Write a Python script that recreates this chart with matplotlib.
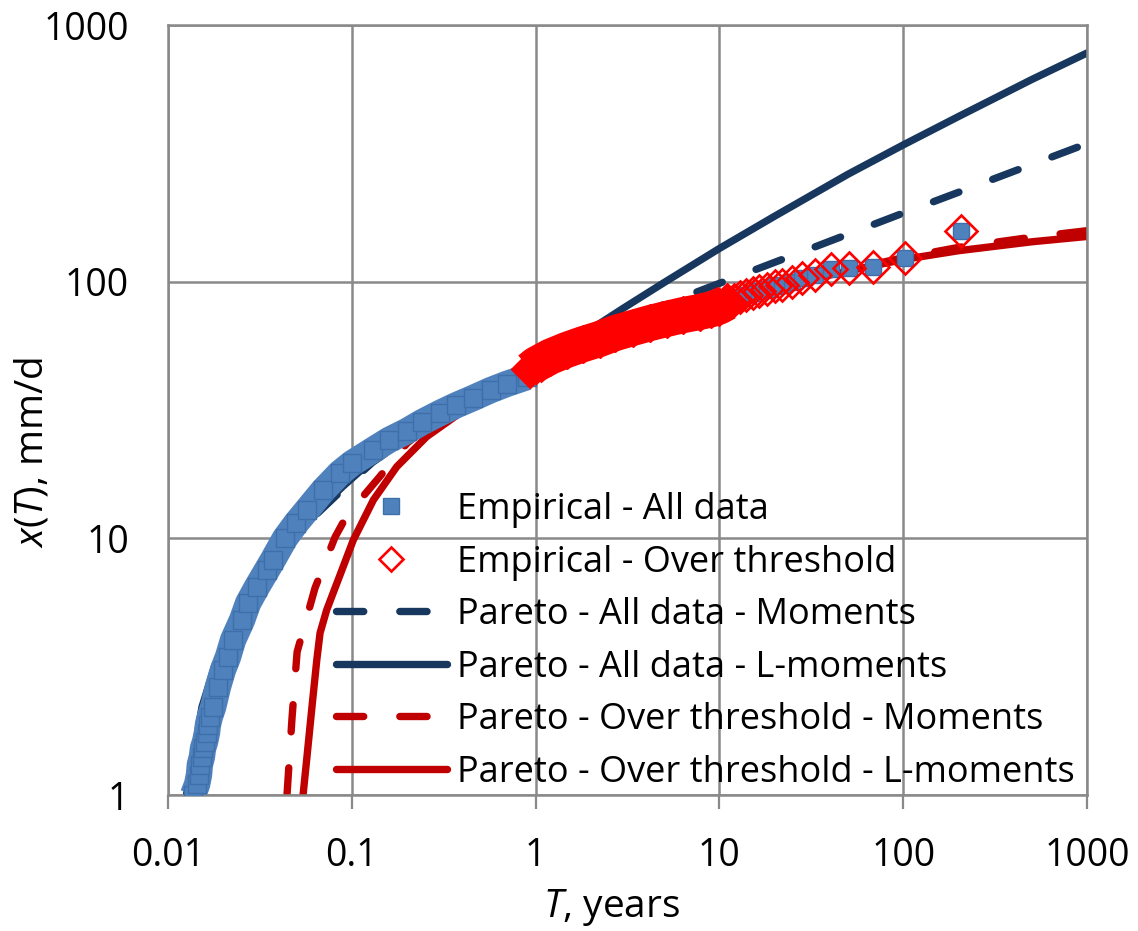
import matplotlib
matplotlib.use("Agg")
import matplotlib.pyplot as plt
from matplotlib.lines import Line2D

plt.rcParams["font.family"] = ["Open Sans", "DejaVu Sans"]
plt.rcParams["mathtext.fontset"] = "custom"
plt.rcParams["mathtext.rm"] = "Open Sans"
plt.rcParams["mathtext.it"] = "Open Sans:italic"

# Empirical - all data, dense part below T = 1 (return period in years, mm/d)
emp_all_T = [0.01368, 0.0144, 0.01475, 0.0149, 0.0153, 0.0155, 0.0159, 0.0163,
             0.0165, 0.0169, 0.0176, 0.0187, 0.0199, 0.0212, 0.0226, 0.0253,
             0.0273, 0.0305, 0.0346, 0.0372, 0.0433, 0.05, 0.0571, 0.07, 0.0863,
             0.1, 0.1304, 0.16, 0.1997, 0.24, 0.302, 0.37, 0.4565, 0.57, 0.699, 0.898]
emp_all_x = [1.0, 1.10, 1.20, 1.31, 1.41, 1.52, 1.61, 1.75,
             1.88, 2.02, 2.20, 2.64, 3.07, 3.45, 4.02, 4.81,
             5.60, 6.47, 7.54, 8.24, 10.0, 11.5, 12.9, 15.4, 18.0,
             19.6, 22.1, 24.2, 26.2, 28.3, 30.8, 33.0, 35.2, 37.8, 40.0, 42.5]

# Empirical - over threshold (same values are the upper tail of all data)
thr_dense_T = [0.93, 1.0, 1.2, 1.475, 1.8, 2.23, 2.7, 3.37, 4.2, 5.17, 6.3,
               7.81, 9.0, 10.0, 11.0]
thr_dense_x = [45.5, 47.5, 51, 54.2, 57, 59.8, 63, 66, 69, 71.6, 74,
               76.2, 78, 80, 83]
thr_T = [12.0, 13.0, 14.0, 15.3, 16.5, 18.2, 20, 22, 24.7, 28, 33, 40.6,
         51, 68.6, 102, 207]
thr_x = [85, 87, 89, 90.5, 92, 94, 96, 97, 100, 103, 106, 112,
         113, 114, 124, 157]

# Pareto fits
all_mom_T = [0.0127, 0.0155, 0.022, 0.035, 0.047, 0.065, 0.09, 0.13, 0.2, 0.3,
             0.5, 0.7, 1.0, 2, 5, 10, 20, 50, 100, 200, 500, 1000]
all_mom_x = [1.0, 2.2, 4.3, 7.4, 9.6, 12.5, 15.6, 19.8, 24.5, 29.5,
             36, 42, 50, 62.5, 81.5, 98.5, 119, 153, 185, 223, 286, 345]

all_lmom_T = [0.0126, 0.014, 0.0153, 0.018, 0.022, 0.027, 0.035, 0.047, 0.065,
              0.09, 0.13, 0.2, 0.3, 0.5, 0.7, 1.0, 2, 3, 5, 10, 20, 50, 100,
              200, 500, 1000]
all_lmom_x = [1.0, 1.5, 2.2, 3.2, 4.4, 5.7, 7.5, 9.8, 12.8,
              16.0, 20.2, 25, 30, 36, 40, 47, 65.3, 78.8, 99.2, 134.7, 180, 262,
              341, 440, 613, 778]

thr_mom_T = [0.0444, 0.0473, 0.0504, 0.0631, 0.081, 0.0942, 0.142, 0.2, 0.3,
             0.5, 1.0, 2, 5, 10, 20, 50, 100, 200, 500, 1000]
thr_mom_x = [1.0, 2.0, 3.61, 6.41, 10.1, 12.3, 17.4, 23.5, 29.5,
             37, 46.5, 56.5, 71, 83, 96, 111, 124, 136, 149, 158]

thr_lmom_T = [0.0543, 0.0568, 0.0605, 0.0645, 0.0672, 0.073, 0.0863, 0.102,
              0.131, 0.1755, 0.2556, 0.4217, 0.7, 1.0, 2, 5, 10, 20, 50, 100,
              200, 500, 1000]
thr_lmom_x = [1.0, 1.37, 2.15, 3.36, 4.28, 5.26, 7.2, 9.86,
              14.1, 19.0, 24.9, 32.1, 40, 45.5, 56, 70, 82, 95, 110, 122,
              132, 143, 150]

ticks = [0.01, 0.1, 1, 10, 100, 1000]
xtick_labels = ["0.01", "0.1", "1", "10", "100", "1000"]
yticks = [1, 10, 100, 1000]
ytick_labels = ["1", "10", "100", "1000"]

navy = "#17375E"
dark_red = "#C00000"
sq_face = "#4F81BD"
sq_edge = "#3F6FAA"
grid_c = "#898989"

fig = plt.figure(figsize=(11.38, 9.31), dpi=100)
ax = fig.add_axes([168 / 1138, 1 - 795 / 931, 919 / 1138, 770 / 931])
ax.set_xscale("log")
ax.set_yscale("log")

lw = 5.3
dash = (3.7, 4.9)
ax.plot(all_mom_T, all_mom_x, color=navy, lw=lw, linestyle=(0, dash),
        dash_capstyle="round", zorder=2)
ax.plot(all_lmom_T, all_lmom_x, color=navy, lw=lw, solid_capstyle="round", zorder=2)
ax.plot(thr_mom_T, thr_mom_x, color=dark_red, lw=lw, linestyle=(0, dash),
        dash_capstyle="round", zorder=2)
ax.plot(thr_lmom_T, thr_lmom_x, color=dark_red, lw=lw, solid_capstyle="round", zorder=2)

# all data: dense band + tail
ax.plot(emp_all_T, emp_all_x, color=sq_face, lw=19, solid_capstyle="butt", zorder=3)
ax.plot(emp_all_T, emp_all_x, "s", ms=13.5, mfc=sq_face, mec=sq_edge, mew=1, zorder=3)
ax.plot(thr_dense_T + thr_T, thr_dense_x + thr_x, "s", ms=11.5, mfc=sq_face,
        mec=sq_edge, mew=1, zorder=4)

# over threshold: dense band drawn solid, tail hollow diamonds
ax.plot(thr_dense_T, thr_dense_x, color="#FF0000", lw=26, solid_capstyle="butt", zorder=5)
ax.plot(thr_dense_T, thr_dense_x, "D", ms=19, mfc="#FF0000", mec="#FF0000", zorder=5)
ax.plot(thr_T, thr_x, "D", ms=16, mfc="none", mec="#FF0000", mew=1.9, zorder=6)

ax.set_xlim(0.01, 1000)
ax.set_ylim(1, 1000)
ax.set_xticks(ticks)
ax.set_xticklabels(xtick_labels)
ax.set_yticks(yticks)
ax.set_yticklabels(ytick_labels)
ax.minorticks_off()
ax.tick_params(axis="x", length=10, width=1.6, color=grid_c, pad=20, labelsize=27)
ax.tick_params(axis="y", length=0, pad=28, labelsize=27)
ax.grid(True, color=grid_c, lw=1.8)
for s in ax.spines.values():
    s.set_color(grid_c)
    s.set_linewidth(1.8)

handles = [
    Line2D([], [], ls="none", marker="s", ms=11.5, mfc=sq_face, mec=sq_edge, mew=1),
    Line2D([], [], ls="none", marker="D", ms=12.5, mfc="white", mec="#FF0000", mew=1.9),
    Line2D([], [], color=navy, lw=lw, linestyle=(0, dash), dash_capstyle="round"),
    Line2D([], [], color=navy, lw=lw, solid_capstyle="round"),
    Line2D([], [], color=dark_red, lw=lw, linestyle=(0, dash), dash_capstyle="round"),
    Line2D([], [], color=dark_red, lw=lw, solid_capstyle="round"),
]
labels = [
    "Empirical - All data",
    "Empirical - Over threshold",
    "Pareto - All data - Moments",
    "Pareto - All data - L-moments",
    "Pareto - Over threshold - Moments",
    "Pareto - Over threshold - L-moments",
]
fig.legend(handles, labels, loc="upper left", bbox_to_anchor=(336 / 1138, 1 - 492 / 931),
           frameon=False, fontsize=26, handlelength=3.06, handletextpad=0.3,
           labelspacing=0.457, borderpad=0, borderaxespad=0)

fig.text(33 / 1138, 1 - 452 / 931, r"$\mathit{x}$($\mathit{T}$), mm/d", rotation=90,
         ha="center", va="center", fontsize=28)
fig.text(612 / 1138, 1 - 908 / 931, r"$\mathit{T}$, years", ha="center", va="center",
         fontsize=28)

fig.savefig("out.png", dpi=100)
